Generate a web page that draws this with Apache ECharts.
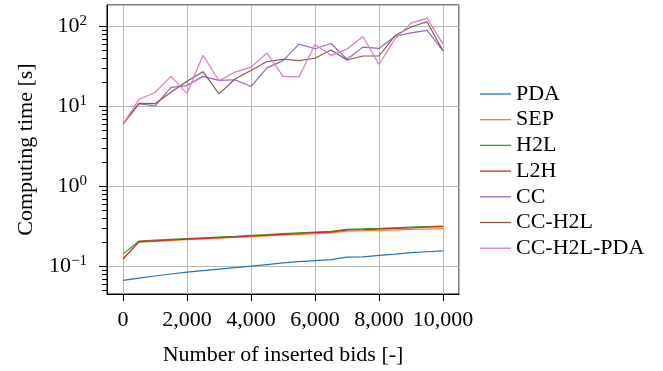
<!DOCTYPE html>
<html><head><meta charset="utf-8">
<script src="https://cdn.jsdelivr.net/npm/echarts@6/dist/echarts.min.js"></script>
<style>html,body{margin:0;padding:0;background:#fff}#c{width:663px;height:371px}</style>
</head><body><div id="c"></div>
<script>
const bids = [0,500,1000,1500,2000,2500,3000,3500,4000,4500,5000,5500,6000,6500,7000,7500,8000,8500,9000,9500,10000];
const PDA = [0.0666,0.071,0.0755,0.080,0.0843,0.088,0.092,0.096,0.1003,0.105,0.110,0.114,0.1175,0.121,0.130,0.131,0.137,0.142,0.148,0.152,0.156];
const SEP = [0.125,0.200,0.205,0.210,0.215,0.220,0.225,0.230,0.235,0.240,0.246,0.251,0.256,0.262,0.275,0.278,0.282,0.285,0.289,0.292,0.295];
const H2L = [0.142,0.207,0.212,0.217,0.222,0.227,0.232,0.237,0.243,0.249,0.256,0.262,0.268,0.273,0.290,0.294,0.298,0.303,0.308,0.313,0.318];
const L2H = [0.123,0.203,0.208,0.213,0.218,0.223,0.228,0.233,0.239,0.245,0.251,0.257,0.263,0.268,0.285,0.288,0.292,0.297,0.302,0.308,0.313];
const CC = [6.0,10.8,10.1,17.3,18.2,23.7,21.1,21.5,17.7,30.3,37.3,60.0,52.5,61.1,38.8,55.0,53.0,75.3,82.7,89.3,49.6];
const CC_H2L = [6.0,10.9,10.8,15.0,20.6,27.1,14.3,22.0,28.1,36.3,38.8,37.3,39.9,50.6,38.0,42.6,42.6,76.7,98.1,114.2,49.1];
const CC_H2L_PDA = [6.0,12.2,14.9,23.7,14.5,43.4,20.9,26.8,30.9,46.4,23.7,23.3,59.4,43.4,52.0,74.6,33.3,69.8,109.9,126.7,60.0];
const seriesNames = ['PDA','SEP','H2L','L2H','CC','CC-H2L','CC-H2L-PDA'];
const seriesValues = [PDA,SEP,H2L,L2H,CC,CC_H2L,CC_H2L_PDA];
const colors = ['#1f77b4','#ff7f0e','#2ca02c','#d62728','#9467bd','#8c564b','#e377c2'];
const xTicks = [0,2000,4000,6000,8000,10000];
const yMajorTicks = [0.1,1,10,100];
const yMinorTicks = [0.05,0.06,0.07,0.08,0.09,0.2,0.3,0.4,0.5,0.6,0.7,0.8,0.9,2,3,4,5,6,7,8,9,20,30,40,50,60,70,80,90];
const xLabel = 'Number of inserted bids [-]';
const yLabel = 'Computing time [s]';

const X_MIN = -500, X_MAX = 10500, Y_MIN = 0.045, Y_MAX = 185;
const FONT = 'Liberation Serif';
const FS = 22;

const chart = echarts.init(document.getElementById('c'), null, {renderer:'canvas'});

function tickSeries(data, dx, dy, len) {
  return {
    type:'custom', coordinateSystem:'cartesian2d', silent:true, clip:false, z:10,
    data: data,
    renderItem: function(params, api) {
      const p = api.coord([api.value(0), api.value(1)]);
      const x = Math.round(p[0]) + (dx === 0 ? 0.5 : 0);
      const y = Math.round(p[1]) + (dy === 0 ? 0.5 : 0);
      return {type:'line', shape:{x1:x, y1:y, x2:x+dx*len, y2:y+dy*len},
        style:{stroke:'#000', lineWidth:1}};
    }
  };
}

const series = seriesNames.map((n,i)=>({
  name:n, type:'line', symbol:'none', showSymbol:false,
  data: bids.map((b,j)=>[b, seriesValues[i][j]]),
  lineStyle:{width:1.2, color:colors[i]}, itemStyle:{color:colors[i]},
  z: 3 + i
}));
series.push(tickSeries(xTicks.map(v=>[v, Y_MIN]), 0, 1, 7));
series.push(tickSeries(yMajorTicks.map(v=>[X_MIN, v]), -1, 0, 8));
series.push(tickSeries(yMinorTicks.map(v=>[X_MIN, v]), -1, 0, 5));

chart.setOption({
  animation:false,
  backgroundColor:'#fff',
  textStyle:{fontFamily:FONT, color:'#000'},
  grid:{left:107, top:5, right:204, bottom:74, show:true, borderColor:'#000', borderWidth:1, backgroundColor:'transparent'},
  legend:{
    orient:'vertical', left:480, top:83, padding:0, itemWidth:31, itemHeight:1.3, itemGap:3.7,
    icon:'rect',
    data: seriesNames,
    textStyle:{fontFamily:FONT, fontSize:FS, color:'#000'}
  },
  xAxis:{
    type:'value', min:X_MIN, max:X_MAX,
    name:xLabel, nameLocation:'middle', nameGap:50,
    nameTextStyle:{fontFamily:FONT, fontSize:FS, color:'#000'},
    axisLine:{show:true, onZero:false, lineStyle:{color:'#000', width:1}},
    axisTick:{show:false},
    splitLine:{show:true, lineStyle:{color:'#b8b8b8', width:1}},
    axisLabel:{
      showMinLabel:false, showMaxLabel:false, margin:15,
      fontFamily:FONT, fontSize:FS, color:'#000',
      formatter: v => (xTicks.indexOf(v) >= 0 ? v.toLocaleString('en-US') : '')
    }
  },
  yAxis:{
    type:'log', logBase:10, min:Y_MIN, max:Y_MAX,
    name:yLabel, nameLocation:'middle', nameGap:70,
    nameTextStyle:{fontFamily:FONT, fontSize:FS, color:'#000'},
    axisLine:{show:true, onZero:false, lineStyle:{color:'#000', width:1}},
    axisTick:{show:false},
    splitLine:{show:true, lineStyle:{color:'#b8b8b8', width:1}},
    axisLabel:{
      margin:20, fontFamily:FONT, color:'#000',
      formatter: function(v){
        const e = Math.log10(v), r = Math.round(e);
        if (Math.abs(e-r) > 1e-6) return '';
        return '{b|10}{s|' + (r < 0 ? '\u2212' + (-r) : r) + '}';
      },
      rich:{
        b:{fontFamily:FONT, fontSize:FS, color:'#000'},
        s:{fontFamily:FONT, fontSize:15, color:'#000', padding:[0,0,10,0]}
      }
    }
  },
  series: series
});
</script></body></html>
